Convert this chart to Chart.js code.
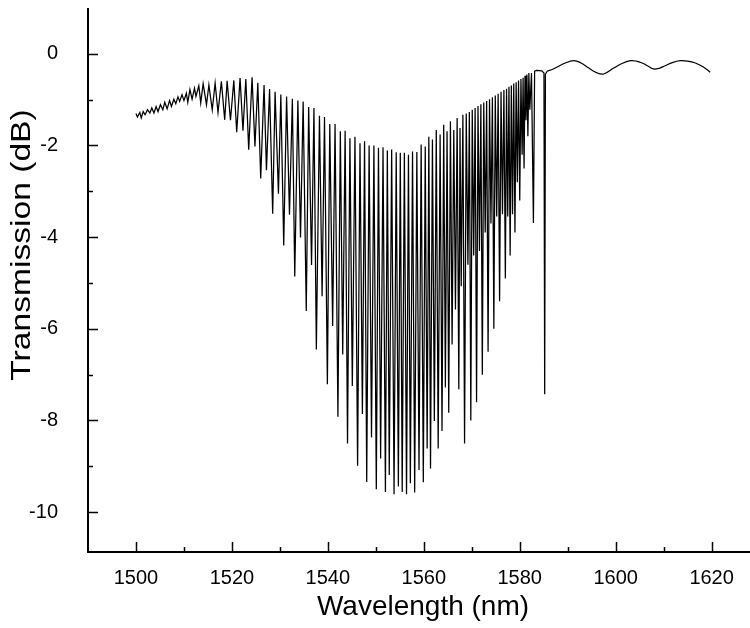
<!DOCTYPE html>
<html>
<head>
<meta charset="utf-8">
<script src="https://cdn.jsdelivr.net/npm/chart.js@4/dist/chart.umd.min.js"></script>
<style>
html, body { margin: 0; padding: 0; background: #fff; }
canvas { display: block; }
</style>
</head>
<body>
<canvas id="specChart" width="750" height="628"></canvas>
<script>
// [wavelength nm, transmission dB], peak/trough by peak/trough
const shortWaveRipple = [
    [1500.0,-1.30],[1500.3,-1.38],[1500.8,-1.28],[1501.1,-1.40],[1501.5,-1.26],[1501.9,-1.33],
    [1502.4,-1.22],[1502.9,-1.29],[1503.3,-1.18],[1503.75,-1.29],[1504.2,-1.15],[1504.6,-1.26],
    [1505.1,-1.11],[1505.6,-1.22],[1506.0,-1.06],[1506.5,-1.20],[1507.0,-1.02],[1507.4,-1.15],
    [1507.9,-0.99],[1508.3,-1.09],[1508.75,-0.94],[1509.1,-1.04],[1509.6,-0.89],[1510.0,-1.02],
    [1510.5,-0.86],[1510.8,-1.06],[1511.25,-0.78],[1511.7,-0.99],[1512.2,-0.75],[1512.5,-0.93],
    [1513.1,-0.70],[1513.5,-1.07],[1514.0,-0.65],[1514.7,-1.11],[1515.2,-0.68],[1515.9,-1.22],
    [1516.5,-0.64],[1517.1,-1.28],[1517.8,-0.60],[1518.5,-1.44],[1519.0,-0.59],[1519.7,-1.45],
    [1520.4,-0.58],[1521.0,-1.71]
];

const fringeRise = [
    [1521.7,-0.53],[1522.3,-1.68],[1522.9,-0.55],[1523.5,-2.09],[1524.2,-0.51],[1524.8,-2.02],
    [1525.4,-0.63],[1526.0,-2.72],[1526.7,-0.68],[1527.2,-2.54],[1527.85,-0.77],[1528.5,-3.49],
    [1529.0,-0.83],[1529.7,-3.05],[1530.2,-0.89],[1530.8,-4.18],[1531.4,-0.93],[1532.0,-3.51],
    [1532.6,-0.98],[1533.1,-4.86],[1533.75,-1.02],[1534.3,-4.01],[1534.85,-1.04],[1535.5,-5.61],
    [1536.0,-1.16],[1536.6,-4.61],[1537.1,-1.18]
];

const fringeDeep = [
    [1537.6,-6.45],[1538.25,-1.35],[1538.8,-5.29],[1539.3,-1.38],[1539.9,-7.21],[1540.4,-1.53],
    [1541.0,-5.94],[1541.5,-1.53],[1542.1,-7.92],[1542.6,-1.69],[1543.1,-6.56],[1543.6,-1.68],
    [1544.1,-8.50],[1544.6,-1.84],[1545.1,-7.25],[1545.65,-1.81],[1546.2,-8.99],[1546.7,-1.95],
    [1547.2,-7.86],[1547.65,-1.91],[1548.1,-9.34],[1548.6,-2.00],[1549.1,-8.37],[1549.6,-2.00],
    [1550.1,-9.50],[1550.55,-2.05],[1551.0,-8.83],[1551.5,-2.04],[1552.0,-9.56],[1552.4,-2.11],
    [1552.8,-9.19],[1553.3,-2.09],[1553.8,-9.61],[1554.25,-2.15],[1554.7,-9.44],[1555.1,-2.16],
    [1555.5,-9.56],[1555.95,-2.16],[1556.4,-9.61],[1556.8,-2.20],[1557.2,-9.37],[1557.65,-2.13],
    [1558.1,-9.57],[1558.55,-2.14],[1559.0,-9.08],[1559.45,-1.98],[1559.9,-9.35],[1560.3,-2.02],
    [1560.7,-8.61],[1561.05,-1.81],[1561.4,-9.05],[1561.8,-1.87],[1562.2,-8.01],[1562.6,-1.66],
    [1563.0,-8.61],[1563.4,-1.76],[1563.8,-8.23],[1564.15,-1.55],[1564.5,-7.28],[1564.85,-1.69],
    [1565.2,-7.83],[1565.55,-1.47],[1565.9,-6.34],[1566.25,-1.66],[1566.6,-5.58],[1566.95,-1.40],
    [1567.3,-7.32],[1567.55,-1.62],[1567.8,-5.07],[1568.15,-1.33]
];

const fringeEdge = [
    [1568.5,-8.50],[1568.85,-1.30],[1569.2,-4.60],[1569.5,-1.27],[1569.8,-8.00],[1570.1,-1.22],
    [1570.4,-4.40],[1570.7,-1.18],[1571.0,-7.60],[1571.3,-1.14],[1571.6,-4.30],[1571.9,-1.10],
    [1572.2,-7.00],[1572.5,-1.06],[1572.8,-3.90],[1573.1,-1.03],[1573.4,-6.50],[1573.7,-0.99],
    [1574.0,-3.70],[1574.3,-0.95],[1574.6,-6.00],[1574.9,-0.91],[1575.2,-3.55],[1575.5,-0.87],
    [1575.8,-5.40],[1576.1,-0.83],[1576.4,-3.50],[1576.7,-0.79],[1577.0,-4.90],[1577.25,-0.76],
    [1577.5,-3.55],[1577.75,-0.72],[1578.0,-4.40],[1578.25,-0.69],[1578.5,-3.50],[1578.75,-0.65],
    [1579.0,-3.90],[1579.25,-0.62],[1579.5,-2.80],[1579.75,-0.58],[1580.0,-3.20],[1580.25,-0.55],
    [1580.5,-2.20],[1580.7,-0.52],[1580.9,-2.50],[1581.1,-0.48],[1581.3,-1.45],[1581.5,-0.45],
    [1581.7,-1.80],[1581.9,-0.42],[1582.1,-1.22],[1582.45,-0.42],[1582.85,-3.69],[1583.1,-0.38],
    [1583.5,-0.36],[1584.6,-0.37],[1585.05,-0.42],[1585.2,-7.43],[1585.35,-0.45],[1585.7,-0.38]
];

const longWaveTail = [
    [1585.7,-0.38],[1587.0,-0.33],[1589.5,-0.20],[1591.25,-0.15],[1592.8,-0.20],[1594.4,-0.31],
    [1596.0,-0.41],[1597.5,-0.44],[1599.6,-0.31],[1601.3,-0.21],[1603.1,-0.15],[1604.3,-0.16],
    [1605.5,-0.20],[1606.8,-0.27],[1607.9,-0.33],[1609.2,-0.31],[1610.3,-0.26],[1611.8,-0.19],
    [1613.5,-0.15],[1615.0,-0.16],[1616.6,-0.20],[1618.2,-0.28],[1619.7,-0.40]
];

const xMajorTicks = [1500, 1520, 1540, 1560, 1580, 1600, 1620];
const xMinorTicks = [1510, 1530, 1550, 1570, 1590, 1610];
const yMajorTicks = [-10, -8, -6, -4, -2, 0];
const yMinorTicks = [-9, -7, -5, -3, -1];

const X_TITLE = "Wavelength (nm)";
const Y_TITLE = "Transmission (dB)";

const FONT = "'Liberation Sans', Arial, sans-serif";

function toXY(pts) {
    return pts.map(p => ({ x: p[0], y: p[1] }));
}

// axis lines + inward ticks + axis titles, Origin style
const originAxes = {
    id: "originAxes",
    afterDraw(chart) {
        const { ctx, chartArea, scales } = chart;
        const x = scales.x, y = scales.y;
        ctx.save();
        ctx.strokeStyle = "#000";
        ctx.lineWidth = 1.5;
        ctx.beginPath();
        xMajorTicks.forEach(v => {
            const px = Math.round(x.getPixelForValue(v)) + 0.5;
            ctx.moveTo(px, chartArea.bottom); ctx.lineTo(px, chartArea.bottom - 10);
        });
        xMinorTicks.forEach(v => {
            const px = Math.round(x.getPixelForValue(v)) + 0.5;
            ctx.moveTo(px, chartArea.bottom); ctx.lineTo(px, chartArea.bottom - 5);
        });
        yMajorTicks.forEach(v => {
            const py = Math.round(y.getPixelForValue(v)) + 0.5;
            ctx.moveTo(chartArea.left, py); ctx.lineTo(chartArea.left + 10, py);
        });
        yMinorTicks.forEach(v => {
            const py = Math.round(y.getPixelForValue(v)) + 0.5;
            ctx.moveTo(chartArea.left, py); ctx.lineTo(chartArea.left + 5, py);
        });
        ctx.stroke();
        ctx.lineWidth = 2;
        ctx.beginPath();
        ctx.moveTo(chartArea.left, chartArea.top);
        ctx.lineTo(chartArea.left, chartArea.bottom);
        ctx.lineTo(chartArea.right, chartArea.bottom);
        ctx.stroke();

        ctx.fillStyle = "#000";
        ctx.font = `28px ${FONT}`;
        ctx.textAlign = "center";
        ctx.textBaseline = "middle";
        ctx.fillText(X_TITLE, 423, 607);
        ctx.translate(22, 245);
        ctx.rotate(-Math.PI / 2);
        ctx.scale(1.2, 1);
        ctx.fillText(Y_TITLE, 0, 0);
        ctx.restore();
    }
};

const lineStyle = { borderColor: "#000", borderWidth: 1.25, pointRadius: 0, fill: false };

new Chart(document.getElementById("specChart").getContext("2d"), {
    type: "line",
    data: {
        datasets: [
            { ...lineStyle, data: toXY([...shortWaveRipple, ...fringeRise, ...fringeDeep, ...fringeEdge]), tension: 0 },
            { ...lineStyle, data: toXY(longWaveTail), tension: 0.4 },
        ],
    },
    options: {
        responsive: false,
        animation: false,
        devicePixelRatio: 1,
        layout: { autoPadding: false, padding: { top: 8, right: 0, left: 0, bottom: 0 } },
        plugins: { legend: { display: false }, tooltip: { enabled: false } },
        scales: {
            x: {
                type: "linear",
                min: 1490,
                max: 1628,
                grid: { display: false, drawTicks: false },
                border: { display: false },
                afterBuildTicks: s => { s.ticks = xMajorTicks.map(v => ({ value: v })); },
                afterFit: s => { s.height = 76; s.paddingLeft = 0; s.paddingRight = 0; },
                ticks: { color: "#000", font: { family: FONT, size: 20 }, padding: 14, maxRotation: 0, callback: v => String(v) },
            },
            y: {
                type: "linear",
                min: -10.87,
                max: 1,
                grid: { display: false, drawTicks: false },
                border: { display: false },
                afterBuildTicks: s => { s.ticks = yMajorTicks.map(v => ({ value: v })); },
                afterFit: s => { s.width = 88; s.paddingTop = 0; s.paddingBottom = 0; },
                ticks: { color: "#000", font: { family: FONT, size: 20 }, padding: 30, callback: v => String(v) },
            },
        },
    },
    plugins: [originAxes],
});
</script>
</body>
</html>
